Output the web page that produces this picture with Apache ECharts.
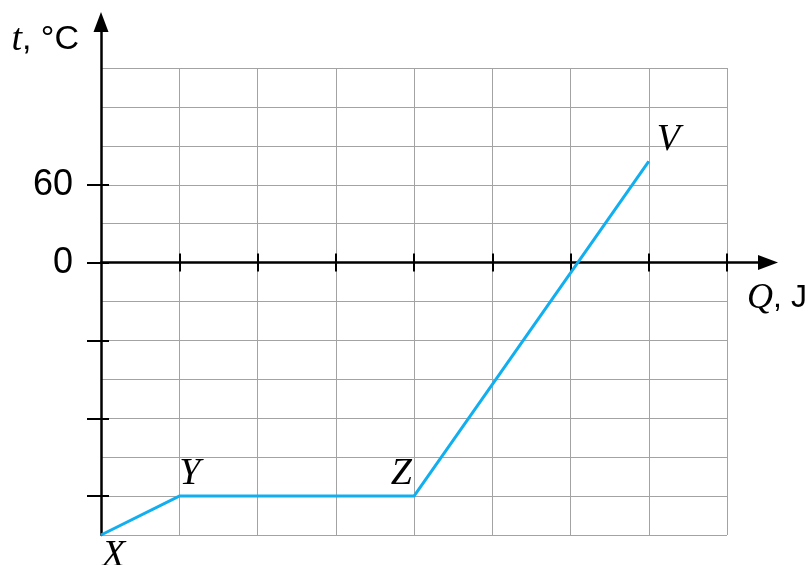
<!DOCTYPE html>
<html>
<head>
<meta charset="utf-8">
<script src="https://cdn.jsdelivr.net/npm/echarts@6/dist/echarts.min.js"></script>
<style>
  html, body { margin: 0; padding: 0; background: #fff; }
  #main { width: 810px; height: 565px; }
</style>
</head>
<body>
<div id="main"></div>
<script>
// data
var pointNames = ['X', 'Y', 'Z', 'V'];
var heatQ = [0, 1, 4, 7];
var tempT = [-210, -180, -180, 78];
var qTicks = [1, 2, 3, 4, 5, 6, 7, 8];
var tTicks = [-180, -120, -60, 0, 60];
var tLabels = [0, 60];

var chart = echarts.init(document.getElementById('main'));

// paper grid (squared lines), the bigger box the arrows live in,
// and a thin box ending at the t axis that carries the short ticks on its right side
var W = 810, H = 565;
var paper = { left: 101, top: 68, right: 83, bottom: 30 };
var arrows = { left: 101, top: 22, right: 42, bottom: 30 };
var strip = { left: 20, top: 68, right: W - 101, bottom: 30 };
var qMin = 0, qMax = 8, tMin = -210, tMax = 150;
var pxQ = (W - paper.left - paper.right) / (qMax - qMin);
var pxT = (H - paper.top - paper.bottom) / (tMax - tMin);
var qMaxArrow = qMin + (W - arrows.left - arrows.right) / pxQ;
var tMaxArrow = tMin + (H - arrows.top - arrows.bottom) / pxT;

// where each point's letter sits
var labelPlace = [
  { align: 'left', verticalAlign: 'top', offset: [1, 2] },
  { align: 'left', verticalAlign: 'bottom', offset: [0, -3] },
  { align: 'right', verticalAlign: 'bottom', offset: [-2, -3] },
  { align: 'left', verticalAlign: 'bottom', offset: [8, -2] }
];

var seriesData = heatQ.map(function (q, i) {
  var p = labelPlace[i];
  return {
    value: [q, tempT[i]],
    label: {
      show: true,
      position: 'inside',
      formatter: pointNames[i],
      align: p.align,
      verticalAlign: p.verticalAlign,
      offset: p.offset
    }
  };
});

var black = '#000';
var tickStyle = { color: black, width: 2 };
var hidden = { axisLine: { show: false }, axisTick: { show: false }, axisLabel: { show: false }, splitLine: { show: false } };

var option = {
  animation: false,
  grid: [
    { left: paper.left, top: paper.top, right: paper.right, bottom: paper.bottom },
    { left: arrows.left, top: arrows.top, right: arrows.right, bottom: arrows.bottom },
    { left: strip.left, top: strip.top, right: strip.right, bottom: strip.bottom }
  ],
  xAxis: [
    {
      // squared paper, vertical lines
      gridIndex: 0, type: 'value', position: 'bottom', min: qMin, max: qMax, interval: 1,
      axisLine: { show: false }, axisTick: { show: false }, axisLabel: { show: false },
      splitLine: { show: true, lineStyle: { color: '#a3a3a3', width: 1 } }
    },
    {
      // Q axis with arrow, ticks below
      gridIndex: 1, type: 'value', position: 'bottom', min: qMin, max: qMaxArrow,
      axisLine: {
        show: true, onZero: true, onZeroAxisIndex: 1,
        symbol: ['none', 'triangle'], symbolSize: [15, 20],
        lineStyle: { color: black, width: 2.5 }
      },
      axisTick: { show: true, length: 9, customValues: qTicks, lineStyle: tickStyle },
      axisLabel: { show: false },
      splitLine: { show: false },
      name: '{i|Q}, J',
      nameLocation: 'end',
      nameGap: 9,
      nameTextStyle: {
        color: black, fontFamily: 'Liberation Sans', fontSize: 32,
        align: 'center', verticalAlign: 'top', padding: [18, 0, 0, 0],
        rich: { i: { fontFamily: 'Liberation Serif', fontStyle: 'italic', fontSize: 36, color: black } }
      }
    },
    {
      // same ticks, above the line
      gridIndex: 1, type: 'value', position: 'bottom', min: qMin, max: qMaxArrow,
      axisLine: { show: false, onZero: true, onZeroAxisIndex: 1 },
      axisTick: { show: true, inside: true, length: 9, customValues: qTicks, lineStyle: tickStyle },
      axisLabel: { show: false },
      splitLine: { show: false }
    },
    Object.assign({ gridIndex: 2, type: 'value', min: 0, max: 1 }, hidden)
  ],
  yAxis: [
    {
      // squared paper, horizontal lines
      gridIndex: 0, type: 'value', position: 'left', min: tMin, max: tMax, interval: 30,
      axisLine: { show: false }, axisTick: { show: false }, axisLabel: { show: false },
      splitLine: { show: true, lineStyle: { color: '#a3a3a3', width: 1 } }
    },
    {
      // t axis with arrow, ticks left
      gridIndex: 1, type: 'value', position: 'left', min: tMin, max: tMaxArrow,
      axisLine: {
        show: true, onZero: false,
        symbol: ['none', 'triangle'], symbolSize: [15, 20],
        lineStyle: { color: black, width: 2.5 }
      },
      axisTick: { show: true, length: 14, customValues: tTicks, lineStyle: tickStyle },
      axisLabel: {
        show: true, customValues: tLabels, margin: 28,
        color: black, fontFamily: 'Liberation Sans', fontSize: 36
      },
      splitLine: { show: false },
      name: '{i|t}, °C',
      nameLocation: 'end',
      nameGap: -18,
      nameTextStyle: {
        color: black, fontFamily: 'Liberation Sans', fontSize: 34,
        align: 'right', verticalAlign: 'middle', padding: [0, 22, 0, 0],
        rich: { i: { fontFamily: 'Liberation Serif', fontStyle: 'italic', fontSize: 38, color: black } }
      }
    },
    {
      // short ticks right of the t axis
      gridIndex: 2, type: 'value', position: 'right', min: tMin, max: tMax,
      axisLine: { show: false, onZero: false },
      axisTick: { show: true, length: 8, customValues: tTicks, lineStyle: tickStyle },
      axisLabel: { show: false },
      splitLine: { show: false }
    }
  ],
  series: [
    {
      type: 'line',
      xAxisIndex: 0,
      yAxisIndex: 0,
      data: seriesData,
      showSymbol: true,
      symbol: 'circle',
      symbolSize: 1,
      itemStyle: { color: '#12aff0' },
      lineStyle: { color: '#12aff0', width: 3 },
      label: {
        color: black,
        fontFamily: 'Liberation Serif',
        fontStyle: 'italic',
        fontSize: 38
      },
      z: 5
    }
  ]
};

chart.setOption(option);
</script>
</body>
</html>
